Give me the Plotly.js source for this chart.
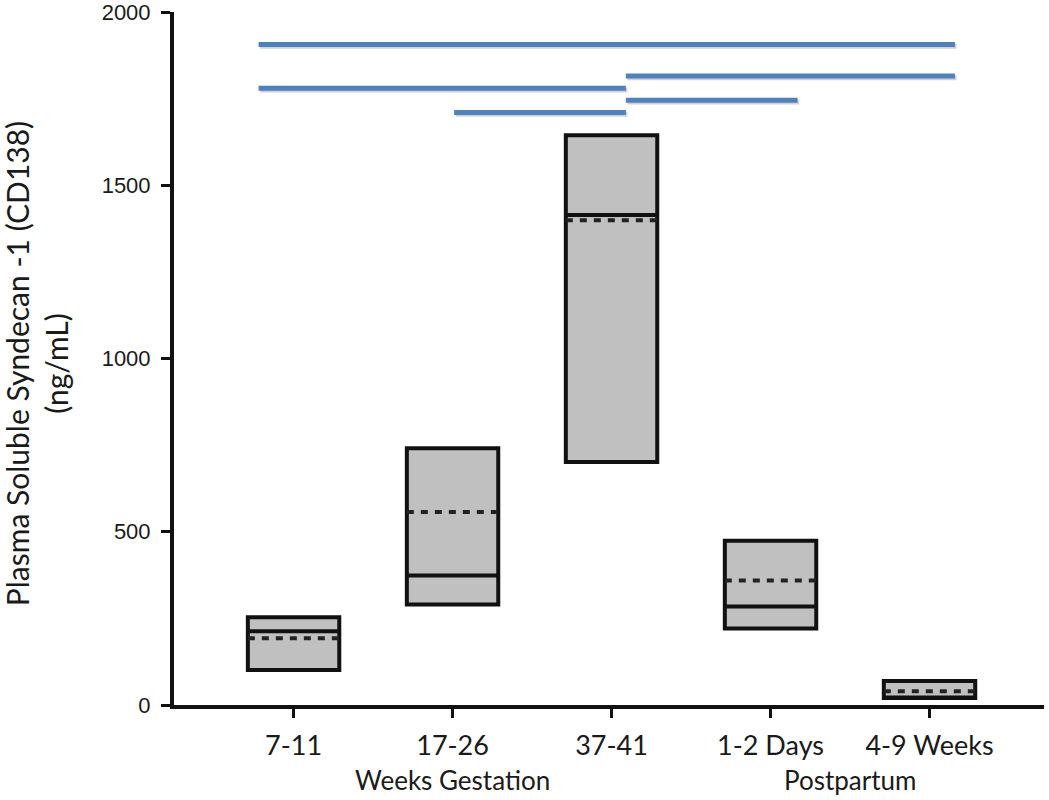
<!DOCTYPE html>
<html>
<head>
<meta charset="utf-8">
<script src="https://cdn.plot.ly/plotly-3.0.1.min.js"></script>
<style>
  html, body { margin: 0; padding: 0; background: #fff; }
  #chart { width: 1049px; height: 800px; }
</style>
</head>
<body>
<div id="chart"></div>
<script>
// Study time points (category positions 0..4 on the x axis)
const timePoints = ['7-11', '17-26', '37-41', '1-2 Days', '4-9 Weeks'];

// Interquartile box per time point (ng/mL)
const q1Values = [101, 290, 701, 221, 20];
const q3Values = [253, 741, 1644, 474, 69];
// Median (solid line) and mean (dotted line) per time point
const medianValues = [213, 374, 1414, 284, 22];
const meanValues = [193, 557, 1399, 359, 40];

// Significance brackets: start/end in category units and height in ng/mL
const sigStart = [-0.22, -0.22, 2.09, 1.01, 2.09];
const sigEnd = [4.16, 2.09, 4.16, 2.09, 3.17];
const sigLevel = [1906, 1780, 1815, 1710, 1745];

// Group labels under the tick labels
const groupLabels = ['Weeks Gestation', 'Postpartum'];
const groupCenters = [1, 3.5];

const yTicks = [0, 500, 1000, 1500, 2000];

const boxWidth = 0.575;
const labelFont = 'Lato, "Open Sans", sans-serif';

const traces = [];

// Floating bars for the boxes
traces.push({
  type: 'bar',
  x: timePoints.map((_, i) => i),
  base: q1Values,
  y: q3Values.map((v, i) => v - q1Values[i]),
  width: boxWidth,
  marker: { color: '#c0c0c0', line: { color: '#111', width: 4 } },
  hoverinfo: 'skip',
  showlegend: false
});

// Median (solid) and mean (dotted) lines across each box
timePoints.forEach((_, i) => {
  const half = boxWidth / 2;
  traces.push({
    type: 'scatter', mode: 'lines',
    x: [i - half, i + half], y: [medianValues[i], medianValues[i]],
    line: { color: '#111', width: 4 },
    hoverinfo: 'skip', showlegend: false
  });
  traces.push({
    type: 'scatter', mode: 'lines',
    x: [i - half, i + half], y: [meanValues[i], meanValues[i]],
    line: { color: '#222', width: 4, dash: '7px,7px' },
    hoverinfo: 'skip', showlegend: false
  });
});

// Significance bars with a soft drop shadow
sigLevel.forEach((lvl, k) => {
  traces.push({
    type: 'scatter', mode: 'lines',
    x: [sigStart[k] + 0.01, sigEnd[k] + 0.01], y: [lvl - 5, lvl - 5],
    line: { color: 'rgba(0,0,0,0.18)', width: 5 },
    hoverinfo: 'skip', showlegend: false
  });
  traces.push({
    type: 'scatter', mode: 'lines',
    x: [sigStart[k], sigEnd[k]], y: [lvl, lvl],
    line: { color: '#4f81bd', width: 5 },
    hoverinfo: 'skip', showlegend: false
  });
});

const annotations = groupLabels.map((t, i) => ({
  text: t, x: groupCenters[i], xref: 'x',
  y: 0, yref: 'paper', yshift: -75, yanchor: 'middle', xanchor: 'center',
  showarrow: false,
  font: { family: labelFont, size: 26, color: '#1a1a1a' }
}));

// Two-line y axis title
annotations.push({
  text: 'Plasma Soluble Syndecan -1 (CD138)<br>(ng/mL)',
  xref: 'paper', yref: 'paper', x: -0.1585, y: 0.492,
  xanchor: 'center', yanchor: 'middle', textangle: -90,
  showarrow: false,
  font: { family: labelFont, size: 30, color: '#1a1a1a' }
});

const layout = {
  width: 1049, height: 800,
  margin: { l: 174, r: 5, t: 12, b: 95 },
  paper_bgcolor: '#fff', plot_bgcolor: '#fff',
  showlegend: false,
  barmode: 'overlay',
  xaxis: {
    range: [-0.752, 4.72],
    tickvals: timePoints.map((_, i) => i),
    ticktext: timePoints,
    ticks: 'outside', ticklen: 9, tickwidth: 3, tickcolor: '#111',
    showline: true, linecolor: '#111', linewidth: 3.5,
    showgrid: false, zeroline: false,
    tickfont: { family: labelFont, size: 27, color: '#1a1a1a' },
    ticklabelstandoff: 5
  },
  yaxis: {
    range: [0, 2000],
    tickvals: yTicks,
    ticks: 'outside', ticklen: 9, tickwidth: 3, tickcolor: '#111',
    showline: true, linecolor: '#111', linewidth: 4,
    showgrid: false, zeroline: false,
    ticklabeloverflow: 'allow',
    tickfont: { family: '"Liberation Sans", Arial, sans-serif', size: 22, color: '#1a1a1a' },
    ticklabelstandoff: 6
  },
  annotations: annotations
};

Plotly.newPlot('chart', traces, layout, { displayModeBar: false, staticPlot: true });
</script>
</body>
</html>
